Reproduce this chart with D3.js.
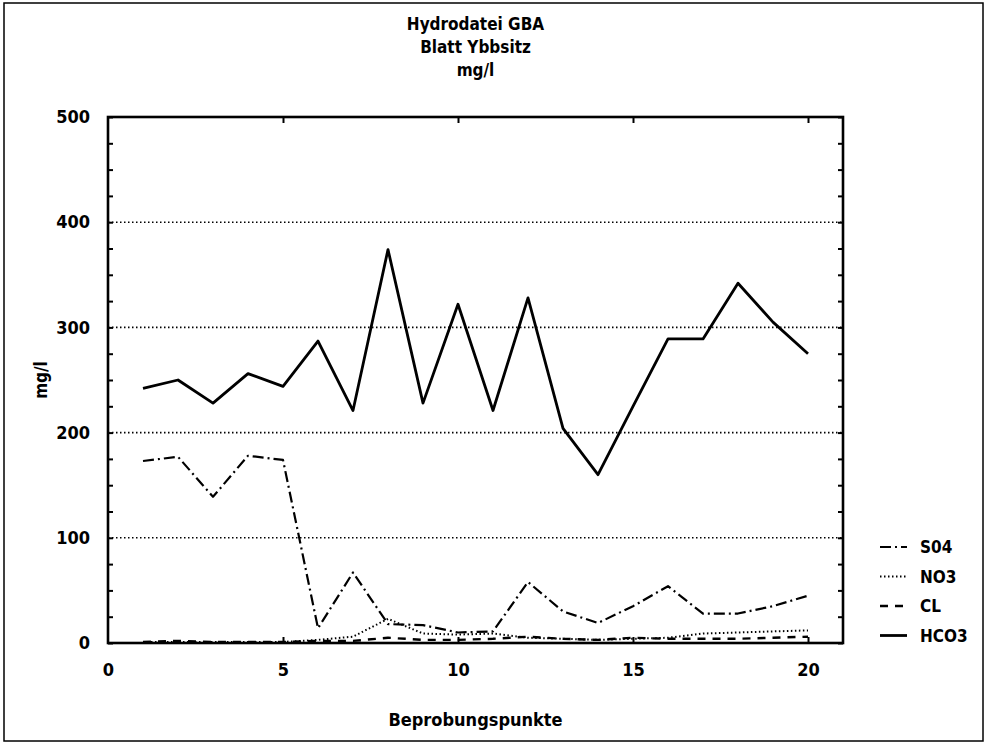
<!DOCTYPE html>
<html><head><meta charset="utf-8">
<script src="https://cdn.jsdelivr.net/npm/d3@7"></script>
<style>
body{margin:0;background:#fff;}
text{font-family:"DejaVu Sans Condensed","Liberation Sans",sans-serif;font-weight:bold;fill:#000;}
</style></head>
<body><svg id="c" width="986" height="744"></svg>
<script>
const titleLines = ["Hydrodatei GBA", "Blatt Ybbsitz", "mg/l"];
const xTitle = "Beprobungspunkte";
const yTitle = "mg/l";
const points = d3.range(1, 21);
const hco3 = [242, 250, 228, 256, 244, 287, 221, 374, 228, 322, 221, 328, 204, 160, 225, 289, 289, 342, 305, 275];
const so4  = [173, 177, 139, 178, 174, 14, 67, 18, 17, 10, 11, 58, 30, 19, 35, 54, 28, 28, 35, 45];
const no3  = [1, 1, 1, 1, 1, 3, 6, 23, 9, 8, 9, 5, 4, 3, 4, 5, 9, 10, 11, 12];
const cl   = [1, 2, 1, 1, 1, 2, 2, 5, 3, 3, 4, 6, 4, 3, 5, 4, 4, 4, 5, 6];
const seriesNames = ["S04", "NO3", "CL", "HCO3"];
const xTicks = [0, 5, 10, 15, 20];
const yTicks = [0, 100, 200, 300, 400, 500];

const svg = d3.select("#c");
const L = 108, R = 843, T = 117, B = 643;
const x = d3.scaleLinear().domain([0, 21]).range([L, R]);
const y = d3.scaleLinear().domain([0, 500]).range([B, T]);
const cx = (L + R) / 2;
const fam = "DejaVu Sans Condensed, Liberation Sans, sans-serif";

// outer frame
svg.append("rect").attr("x", 4).attr("y", 3).attr("width", 979).attr("height", 738)
  .attr("fill", "none").attr("stroke", "#000").attr("stroke-width", 1.5);

// title
titleLines.forEach((t, i) => {
  svg.append("text").attr("x", cx).attr("y", 30 + i * 23).attr("text-anchor", "middle")
    .attr("font-size", 17).text(t);
});

// gridlines
svg.append("g").selectAll("line").data(yTicks.filter(v => v > 0 && v < 500)).join("line")
  .attr("x1", L).attr("x2", R).attr("y1", d => y(d)).attr("y2", d => y(d))
  .attr("stroke", "#000").attr("stroke-width", 1.6).attr("stroke-dasharray", "1.5,2.5");

// axes with inward ticks
const minor = d3.range(0, 501, 25);
const gL = svg.append("g").attr("transform", `translate(${L},0)`)
  .call(d3.axisRight(y).tickValues(minor).tickSize(5).tickFormat(""));
const gR = svg.append("g").attr("transform", `translate(${R},0)`)
  .call(d3.axisLeft(y).tickValues(minor).tickSize(5).tickFormat(""));
const gT = svg.append("g").attr("transform", `translate(0,${T})`)
  .call(d3.axisBottom(x).tickValues(xTicks.filter(v => v > 0)).tickSize(6).tickFormat(""));
const gB = svg.append("g").attr("transform", `translate(0,${B})`)
  .call(d3.axisTop(x).tickValues(xTicks.filter(v => v > 0)).tickSize(6).tickFormat(""));
[gL, gR, gT, gB].forEach(g => {
  g.selectAll("path").remove();
  g.selectAll("line").attr("stroke", "#000").attr("stroke-width", 2);
});
svg.append("rect").attr("x", L).attr("y", T).attr("width", R - L).attr("height", B - T)
  .attr("fill", "none").attr("stroke", "#000").attr("stroke-width", 2.6);

// tick labels
const yAx = svg.append("g").attr("transform", `translate(${L},0)`)
  .call(d3.axisLeft(y).tickValues(yTicks).tickSize(0).tickPadding(18).tickFormat(d3.format("d")));
yAx.select("path").remove();
yAx.selectAll("text").attr("font-size", 18).attr("font-family", fam).attr("font-weight", "bold");
const xAx = svg.append("g").attr("transform", `translate(0,${B})`)
  .call(d3.axisBottom(x).tickValues(xTicks).tickSize(0).tickPadding(20).tickFormat(d3.format("d")));
xAx.select("path").remove();
xAx.selectAll("text").attr("font-size", 18).attr("font-family", fam).attr("font-weight", "bold");

// axis titles
svg.append("text").attr("x", cx).attr("y", 726).attr("text-anchor", "middle").attr("font-size", 18).text(xTitle);
svg.append("text").attr("transform", "translate(47,380) rotate(-90)").attr("text-anchor", "middle")
  .attr("font-size", 17).text(yTitle);

// series
const styles = [
  {data: so4, dash: "11,4,2,4", w: 2.2},
  {data: no3, dash: "1.5,2.5", w: 2},
  {data: cl, dash: "8,7", w: 2.4},
  {data: hco3, dash: null, w: 2.8}
];
const line = d3.line().x((d, i) => x(points[i])).y(d => y(d));
styles.forEach(s => {
  svg.append("path").datum(s.data).attr("d", line).attr("fill", "none")
    .attr("stroke", "#000").attr("stroke-width", s.w)
    .attr("stroke-dasharray", s.dash).attr("stroke-linejoin", "round");
});

// legend
const lg = svg.append("g");
seriesNames.forEach((n, i) => {
  const yy = 547 + i * 29.5;
  lg.append("line").attr("x1", 880).attr("x2", 907).attr("y1", yy).attr("y2", yy)
    .attr("stroke", "#000").attr("stroke-width", styles[i].w)
    .attr("stroke-dasharray", styles[i].dash);
  lg.append("text").attr("x", 920).attr("y", yy + 6).attr("font-size", 17).text(n);
});
</script></body></html>
